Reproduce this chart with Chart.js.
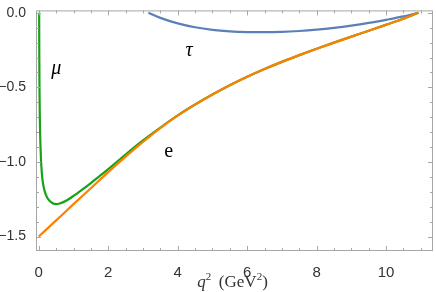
<!DOCTYPE html>
<html>
<head>
<meta charset="utf-8">
<script src="https://cdn.jsdelivr.net/npm/chart.js@4"></script>
<style>
html,body{margin:0;padding:0;background:#fff;}
#wrap{width:436px;height:292px;}
</style>
</head>
<body>
<div id="wrap"><canvas id="c" width="436" height="292"></canvas></div>
<script>
// ---- data ----
const eQ2   = [0,0.5,1,1.5,2,2.5,3,3.5,4,4.5,5,5.5,6,6.5,7,7.5,8,8.5,9,9.5,10,10.5,10.93];
const eVals = [-1.5,-1.392,-1.283,-1.176,-1.068,-0.964,-0.865,-0.773,-0.69,-0.616,-0.548,-0.486,-0.429,-0.377,-0.329,-0.284,-0.241,-0.2,-0.16,-0.12,-0.08,-0.04,0];

const muQ2   = [0.0112,0.015,0.02,0.03,0.04,0.05,0.065,0.085,0.11,0.15,0.2,0.28,0.4,0.5,0.6,0.8,1.0,1.25,1.5,1.75,2.0,2.5,3.0,3.5,4,4.5,5,5.5,6,6.5,7,7.5,8,8.5,9,9.5,10,10.5,10.93];
const muVals = [0,-0.3,-0.5,-0.7,-0.82,-0.9,-0.99,-1.065,-1.125,-1.178,-1.218,-1.253,-1.277,-1.283,-1.279,-1.258,-1.228,-1.186,-1.142,-1.095,-1.048,-0.95,-0.856,-0.77,-0.688,-0.615,-0.548,-0.486,-0.429,-0.377,-0.329,-0.284,-0.241,-0.2,-0.16,-0.12,-0.08,-0.04,0];

const tauQ2   = [3.157,3.5,4,4.5,5,5.5,6,6.5,7,7.5,8,8.5,9,9.5,10,10.5,10.93];
const tauVals = [0,-0.034,-0.071,-0.097,-0.114,-0.124,-0.129,-0.13,-0.128,-0.122,-0.113,-0.101,-0.086,-0.068,-0.047,-0.024,0];

const xTicks = [0,2,4,6,8,10];
const xTickLabels = ['0','2','4','6','8','10'];
const yTicks = [0,-0.5,-1,-1.5];
const yTickLabels = ['0.0','\u22120.5','\u22121.0','\u22121.5'];
const xMinor = [];
for (let v = 0; v <= 11.01; v += 0.5) xMinor.push(+v.toFixed(2));
const yMinor = [];
for (let v = 0; v >= -1.59; v -= 0.1) yMinor.push(+v.toFixed(2));

const seriesLabels = [
  {text:'\u03bc', x:0.50, y:-0.378, font:'italic 20px "Liberation Serif"'},
  {text:'\u03c4', x:4.33, y:-0.254, font:'italic 20px "Liberation Serif"'},
  {text:'e',      x:3.74, y:-0.93, font:'20px "Liberation Serif"'}
];

const pts = (xs, ys) => xs.map((x,i)=>({x, y: ys[i]}));

const framePlugin = {
  id:'frame',
  afterDraw(chart){
    const {ctx, chartArea:a, scales:{x, y}} = chart;
    ctx.save();
    ctx.strokeStyle = '#a6a6a6';
    ctx.lineWidth = 1;
    ctx.strokeRect(a.left+0.5, a.top+0.5, a.right-a.left-1, a.bottom-a.top-1);
    ctx.beginPath();
    xMinor.forEach(v=>{
      const px = Math.round(x.getPixelForValue(v))+0.5;
      const len = xTicks.includes(v) ? 5 : 3;
      ctx.moveTo(px, a.bottom); ctx.lineTo(px, a.bottom-len);
      ctx.moveTo(px, a.top); ctx.lineTo(px, a.top+len);
    });
    yMinor.forEach(v=>{
      const py = Math.round(y.getPixelForValue(v))+0.5;
      const len = yTicks.some(t=>Math.abs(t-v)<1e-6) ? 5 : 3;
      ctx.moveTo(a.left, py); ctx.lineTo(a.left+len, py);
      ctx.moveTo(a.right, py); ctx.lineTo(a.right-len, py);
    });
    ctx.stroke();
    // curve labels
    ctx.fillStyle = '#000';
    ctx.textAlign = 'center';
    ctx.textBaseline = 'middle';
    seriesLabels.forEach(l=>{
      ctx.font = l.font;
      ctx.fillText(l.text, x.getPixelForValue(l.x), y.getPixelForValue(l.y));
    });
    // axis title q^2 (GeV^2)
    const cx = (a.left+a.right)/2 - 2;
    const by = 287;
    ctx.textAlign = 'left';
    ctx.textBaseline = 'alphabetic';
    ctx.fillStyle = '#333';
    const parts = [
      ['italic 17px "Liberation Serif"','q',0],
      ['11px "Liberation Serif"','2',-7],
      ['17px "Liberation Serif"','\u2009 (GeV',0],
      ['11px "Liberation Serif"','2',-7],
      ['17px "Liberation Serif"',')',0]
    ];
    let w = 0;
    parts.forEach(p=>{ctx.font=p[0]; w+=ctx.measureText(p[1]).width;});
    let xx = cx - w/2;
    parts.forEach(p=>{ctx.font=p[0]; ctx.fillText(p[1], xx, by+p[2]); xx+=ctx.measureText(p[1]).width;});
    ctx.restore();
  }
};

new Chart(document.getElementById('c'), {
  type:'scatter',
  data:{
    datasets:[
      {label:'e', data:pts(eQ2,eVals), borderColor:'#ff8000', order:0},
      {label:'\u03bc', data:pts(muQ2,muVals), borderColor:'#16a316', order:1},
      {label:'\u03c4', data:pts(tauQ2,tauVals), borderColor:'#5b7fb8', order:2}
    ].map(d=>Object.assign(d,{showLine:true, pointRadius:0, borderWidth:2.2, cubicInterpolationMode:'monotone', fill:false}))
  },
  options:{
    responsive:false,
    animation:false,
    devicePixelRatio:1,
    layout:{padding:{top:5,right:3,left:0,bottom:0}},
    plugins:{legend:{display:false}, tooltip:{enabled:false}},
    scales:{
      x:{
        type:'linear', min:-0.08, max:11.35,
        grid:{display:false}, border:{display:false},
        afterBuildTicks:s=>{s.ticks = xTicks.map(v=>({value:v}));},
        afterFit:s=>{s.height = 41;},
        ticks:{padding:5, color:'#333', font:{family:'Liberation Sans', size:15},
          callback:(v)=>{const i=xTicks.indexOf(v); return i>=0?xTickLabels[i]:'';}, maxRotation:0}
      },
      y:{
        type:'linear', min:-1.597, max:0.016,
        grid:{display:false}, border:{display:false},
        afterBuildTicks:s=>{s.ticks = yTicks.map(v=>({value:v}));},
        afterFit:s=>{s.width = 36;},
        ticks:{padding:2, color:'#333', font:{family:'Liberation Sans', size:14},
          callback:(v)=>{const i=yTicks.findIndex(t=>Math.abs(t-v)<1e-6); return i>=0?yTickLabels[i]:'';}}
      }
    }
  },
  plugins:[framePlugin]
});
</script>
</body>
</html>
